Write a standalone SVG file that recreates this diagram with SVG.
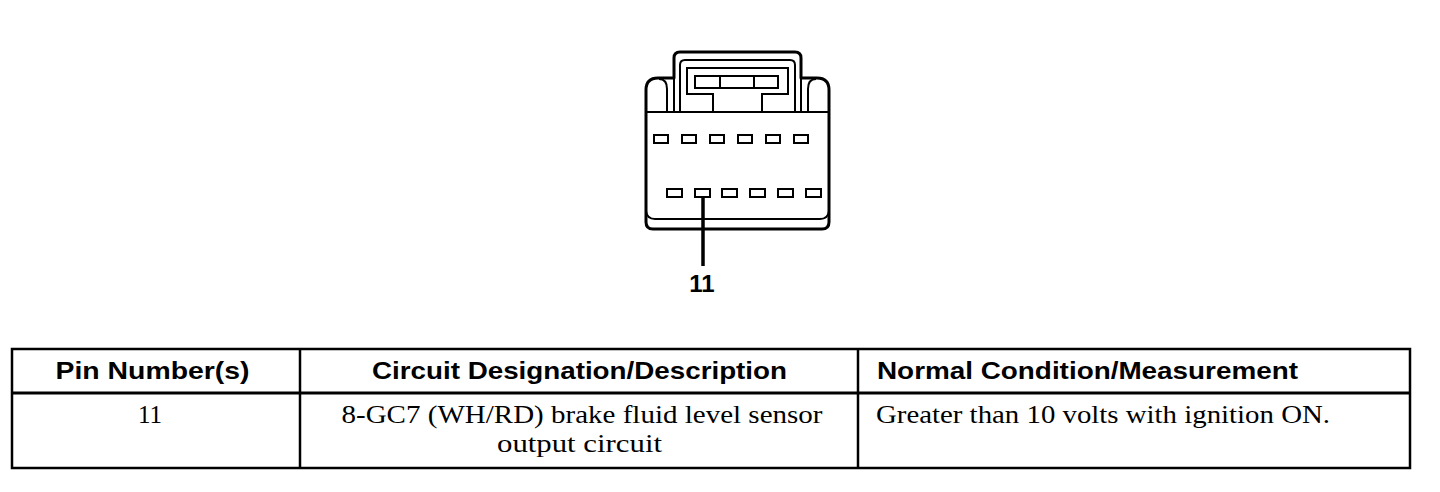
<svg xmlns="http://www.w3.org/2000/svg" width="1440" height="492" viewBox="0 0 1440 492">
<style>
.thick{fill:none;stroke:#000;stroke-width:3;stroke-linejoin:round}
.thin{fill:none;stroke:#000;stroke-width:2}
.pin{fill:#fff;stroke:#000;stroke-width:2}
.hdr{font-family:"Liberation Sans",Arial,sans-serif;font-weight:bold;font-size:24px;fill:#000}
.body{font-family:"Liberation Serif","Times New Roman",serif;font-size:25px;fill:#000}
.tl{fill:none;stroke:#000;stroke-width:2.5}
</style>
<rect width="1440" height="492" fill="#fff"/>
<g id="connector">
<path class="thick" d="M646 222 V90 Q646 78 658 78 H674 V58 Q674 52 680 52 H795 Q801 52 801 58 V78 H817 Q829 78 829 90 V222 Q829 229 822 229 H653 Q646 229 646 222 Z"/>
<path class="thin" d="M667 112 V89 Q667 79 659 79"/>
<path class="thin" d="M808 112 V89 Q808 79 816 79"/>
<path class="thin" d="M674 78 V112 M801 78 V112"/>
<path class="thin" d="M680 112 V65 Q680 60 685 60 H790 Q795 60 795 65 V112"/>
<path class="thin" d="M713 112 V94 H687 V68 H788 V94 H762 V112"/>
<rect class="thin" x="695" y="76" width="83" height="12"/>
<path class="thin" d="M720 76 V88 M754 76 V88"/>
<path class="thin" stroke-width="2.5" d="M646 112 H829"/>
<path class="thin" d="M646 211 Q647 219 655 219 H820 Q828 219 829 211"/>
<g id="pins-top">
<rect class="pin" x="654" y="135" width="14" height="8"/>
<rect class="pin" x="682" y="135" width="14" height="8"/>
<rect class="pin" x="710" y="135" width="14" height="8"/>
<rect class="pin" x="738" y="135" width="14" height="8"/>
<rect class="pin" x="766" y="135" width="14" height="8"/>
<rect class="pin" x="794" y="135" width="14" height="8"/>
</g>
<g id="pins-bottom">
<rect class="pin" x="667" y="189" width="15" height="8"/>
<rect class="pin" x="695" y="189" width="15" height="8"/>
<rect class="pin" x="722" y="189" width="15" height="8"/>
<rect class="pin" x="750" y="189" width="15" height="8"/>
<rect class="pin" x="778" y="189" width="15" height="8"/>
<rect class="pin" x="806" y="189" width="15" height="8"/>
</g>
</g>
<g id="connectors">
<line x1="703" y1="197" x2="703" y2="266" stroke="#000" stroke-width="3.5"/>
</g>
<g id="pin-label">
<text class="hdr" x="702" y="292" text-anchor="middle">11</text>
</g>
<g id="table">
<rect class="tl" x="12" y="349" width="1398" height="119"/>
<line x1="12" y1="393" x2="1410" y2="393" stroke="#000" stroke-width="3"/>
<line class="tl" x1="300" y1="349" x2="300" y2="468"/>
<line class="tl" x1="858" y1="349" x2="858" y2="468"/>
<text class="hdr" x="152.5" y="379" text-anchor="middle" textLength="194" lengthAdjust="spacingAndGlyphs">Pin Number(s)</text>
<text class="hdr" x="579.5" y="379" text-anchor="middle" textLength="415" lengthAdjust="spacingAndGlyphs">Circuit Designation/Description</text>
<text class="hdr" x="877" y="379" textLength="421" lengthAdjust="spacingAndGlyphs">Normal Condition/Measurement</text>
<text class="body" x="150" y="423" text-anchor="middle">11</text>
<text class="body" x="582" y="423" text-anchor="middle" textLength="481" lengthAdjust="spacingAndGlyphs">8-GC7 (WH/RD) brake fluid level sensor</text>
<text class="body" x="579.5" y="452" text-anchor="middle" textLength="165" lengthAdjust="spacingAndGlyphs">output circuit</text>
<text class="body" x="876" y="423" textLength="454" lengthAdjust="spacingAndGlyphs">Greater than 10 volts with ignition ON.</text>
</g>
</svg>
